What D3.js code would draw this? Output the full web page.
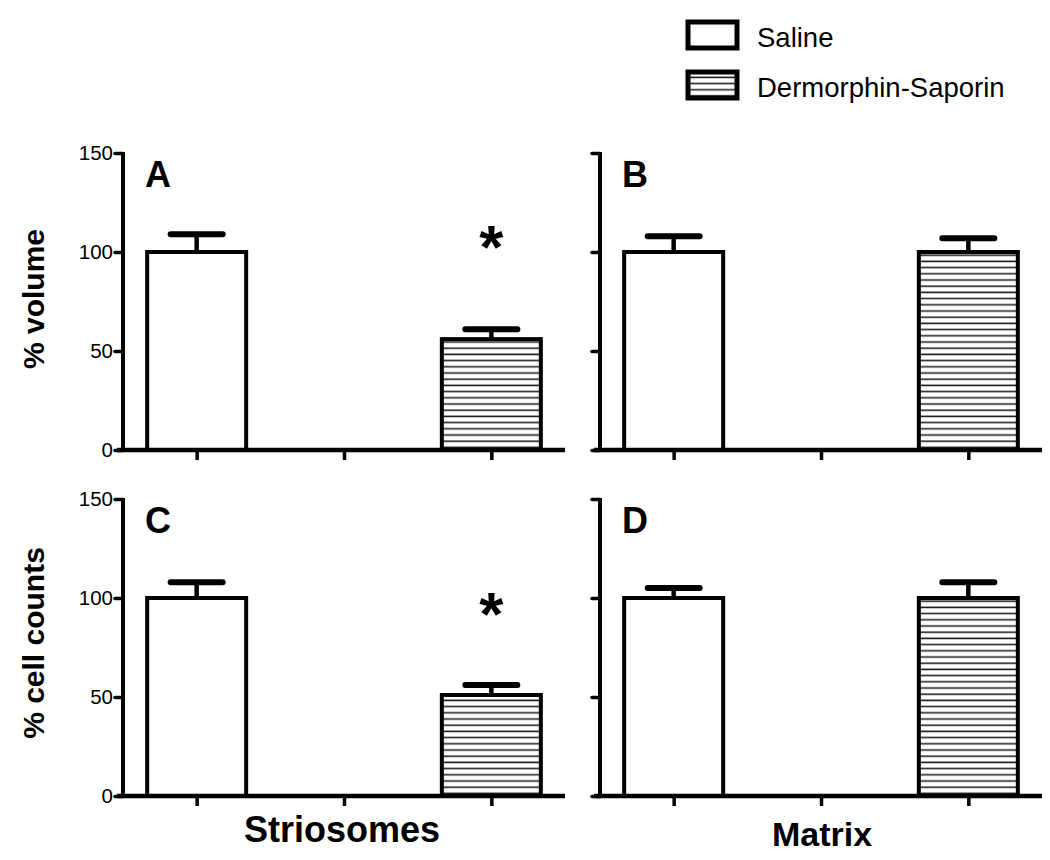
<!DOCTYPE html>
<html><head><meta charset="utf-8">
<script src="https://cdn.jsdelivr.net/npm/d3@7"></script>
<style>body{margin:0;background:#fff}svg{display:block}text{font-family:"Liberation Sans",Arial,sans-serif}</style>
</head><body>
<svg id="c" width="1050" height="860"></svg>
<script>
const groups = ["Saline", "gap", "Dermorphin-Saporin"];
const legendLabels = ["Saline", "Dermorphin-Saporin"];
const yTicks = [0, 50, 100, 150];
const panelLetters = ["A", "B", "C", "D"];
const rowTitles = ["% volume", "% cell counts"];
const colTitles = ["Striosomes", "Matrix"];
// values [Saline, Dermorphin-Saporin] and error-bar tops
const meanA = [100, 56], errA = [109, 61];
const meanB = [100, 100], errB = [108, 107];
const meanC = [100, 51], errC = [108, 56];
const meanD = [100, 100], errD = [105, 108];
// significance star level (y units) per panel, null = none
const starA = 108.5, starB = null, starC = 98, starD = null;

const svg = d3.select("#c");
const defs = svg.append("defs");
const pat = defs.append("pattern").attr("id","hatch").attr("patternUnits","userSpaceOnUse")
  .attr("width", 8).attr("height", 6.2);
pat.append("rect").attr("width",8).attr("height",6.2).attr("fill","#fff");
pat.append("line").attr("x1",0).attr("x2",8).attr("y1",3).attr("y2",3).attr("stroke","#222").attr("stroke-width",1.6);

const panels = [
  {mean: meanA, err: errA, star: starA, letter: panelLetters[0], x0: 123, y0: 450, labels: true},
  {mean: meanB, err: errB, star: starB, letter: panelLetters[1], x0: 600, y0: 450, labels: false},
  {mean: meanC, err: errC, star: starC, letter: panelLetters[2], x0: 123, y0: 796, labels: true},
  {mean: meanD, err: errD, star: starD, letter: panelLetters[3], x0: 600, y0: 796, labels: false}
];
const axisLen = 442, plotH = 297, barW = 99, capW = 52;

panels.forEach(p => {
  const g = svg.append("g").attr("transform", `translate(${p.x0},${p.y0 - plotH})`);
  const x = d3.scalePoint().domain(groups).range([0, axisLen]).padding(0.5);
  const y = d3.scaleLinear().domain([0, 150]).range([plotH, 0]);

  const data = [
    {g: groups[0], v: p.mean[0], e: p.err[0], fill: "#fff"},
    {g: groups[2], v: p.mean[1], e: p.err[1], fill: "url(#hatch)"}
  ];
  data.forEach(d => {
    g.append("line").attr("x1", x(d.g)).attr("x2", x(d.g)).attr("y1", y(d.v)).attr("y2", y(d.e))
      .attr("stroke", "#000").attr("stroke-width", 4.5);
    g.append("line").attr("x1", x(d.g) - capW/2).attr("x2", x(d.g) + capW/2).attr("y1", y(d.e)).attr("y2", y(d.e))
      .attr("stroke", "#000").attr("stroke-width", 6).attr("stroke-linecap","round");
  });
  g.selectAll("rect.bar").data(data).join("rect").attr("class","bar")
    .attr("x", d => x(d.g) - barW/2).attr("width", barW)
    .attr("y", d => y(d.v)).attr("height", d => y(0) - y(d.v))
    .attr("fill", d => d.fill).attr("stroke", "#000").attr("stroke-width", 4);

  const ya = d3.axisLeft(y).tickValues(yTicks).tickSize(8).tickPadding(2)
    .tickFormat(p.labels ? d3.format("d") : "");
  const yg = g.append("g").call(ya);
  yg.select(".domain").remove();
  yg.selectAll(".tick line").attr("stroke-width", 3.5).attr("stroke-linecap","round");
  yg.selectAll(".tick text").attr("font-size", 20.5).attr("fill","#000").attr("font-family","Liberation Sans, Arial, sans-serif");
  g.append("line").attr("x1",0).attr("x2",0).attr("y1",y(150)-1).attr("y2",y(0)+2).attr("stroke","#000").attr("stroke-width",4);

  const xa = d3.axisBottom(x).tickSize(10).tickFormat("");
  const xg = g.append("g").attr("transform", `translate(0,${plotH})`).call(xa);
  xg.select(".domain").remove();
  xg.selectAll(".tick line").attr("stroke-width", 3.5);
  g.append("line").attr("x1",-6).attr("x2",axisLen).attr("y1",plotH).attr("y2",plotH).attr("stroke","#000").attr("stroke-width",4.5);

  g.append("text").attr("x", 22).attr("y", y(150) + 34).text(p.letter)
    .attr("font-size", 36).attr("font-weight","bold");
  if (p.star != null) {
    g.append("text").attr("x", x(groups[2])).attr("y", y(p.star) + 33)
      .attr("text-anchor","middle").attr("font-size", 62).attr("font-weight","bold").text("*");
  }
});

[[299, rowTitles[0]], [643, rowTitles[1]]].forEach(([cy, t]) => {
  svg.append("text").attr("transform", `translate(44,${cy}) rotate(-90)`).attr("text-anchor","middle")
    .attr("font-size", 30).attr("font-weight","bold").text(t);
});
[[342, colTitles[0], 842, 36], [822, colTitles[1], 846, 34]].forEach(([cx, t, by, fs]) => {
  svg.append("text").attr("x", cx).attr("y", by).attr("text-anchor","middle")
    .attr("font-size", fs).attr("font-weight","bold").text(t);
});

const lg = svg.append("g");
legendLabels.forEach((t, i) => {
  const yy = 22 + i * 50;
  lg.append("rect").attr("x", 688).attr("y", yy).attr("width", 49).attr("height", 26)
    .attr("fill", i === 0 ? "#fff" : "url(#hatch)").attr("stroke","#000").attr("stroke-width", 5);
  lg.append("text").attr("x", 757).attr("y", yy + 25).attr("font-size", 27.5).text(t);
});
</script>
</body></html>
